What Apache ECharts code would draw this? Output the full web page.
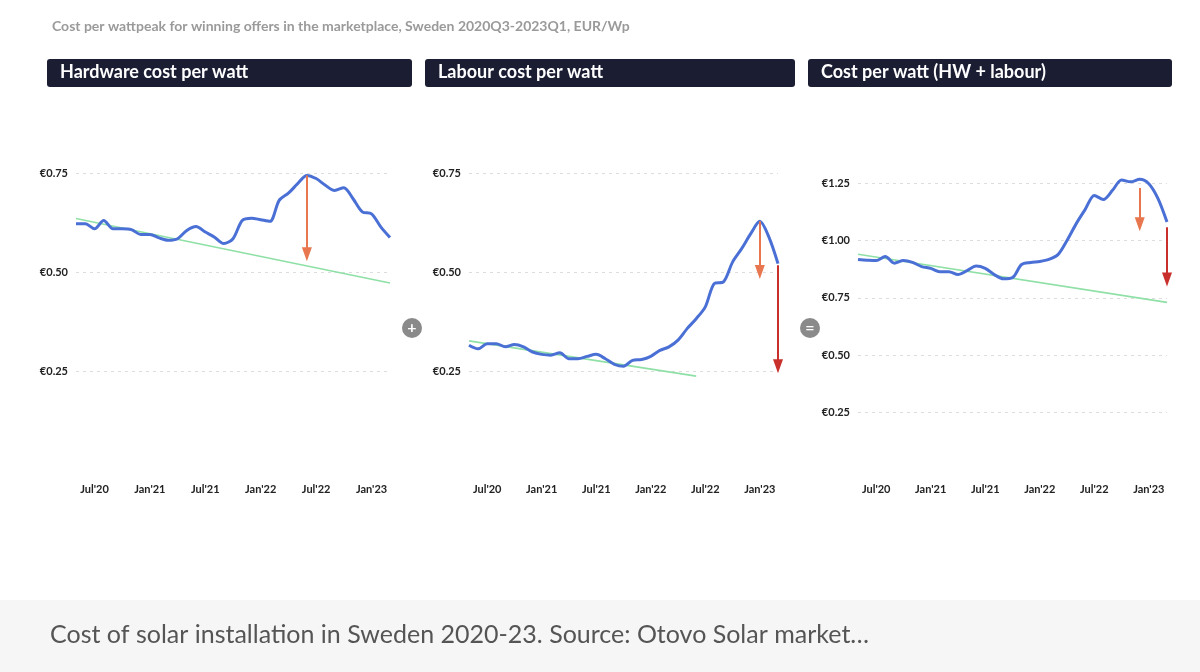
<!DOCTYPE html>
<html>
<head>
<meta charset="utf-8">
<script src="https://cdn.jsdelivr.net/npm/echarts@6/dist/echarts.min.js"></script>
<style>
    body {margin:0;background:#fff;}
    #chart {width:1200px;height:672px;}
</style>
</head>
<body>
<div id="chart"></div>
<script>
    // months May'20 .. Mar'23
    var months = ["May'20","Jun'20","Jul'20","Aug'20","Sep'20","Oct'20","Nov'20","Dec'20",
        "Jan'21","Feb'21","Mar'21","Apr'21","May'21","Jun'21","Jul'21","Aug'21","Sep'21","Oct'21","Nov'21","Dec'21",
        "Jan'22","Feb'22","Mar'22","Apr'22","May'22","Jun'22","Jul'22","Aug'22","Sep'22","Oct'22","Nov'22","Dec'22",
        "Jan'23","Feb'23","Mar'23"];
    var hardware = [0.622,0.622,0.609,0.630,0.609,0.609,0.607,0.595,0.595,0.586,0.580,0.584,0.605,0.615,0.601,0.588,0.572,0.584,
        0.630,0.636,0.632,0.628,0.681,0.699,0.723,0.744,0.736,0.719,0.706,0.713,0.685,0.652,0.647,0.614,0.587];
    var labour = [0.315,0.306,0.319,0.319,0.311,0.317,0.311,0.298,0.292,0.290,0.296,0.281,0.281,0.287,0.292,0.281,0.267,0.262,
        0.277,0.279,0.287,0.302,0.311,0.328,0.357,0.382,0.412,0.471,0.475,0.525,0.559,0.597,0.628,0.588,0.521];
    var total = [0.917,0.914,0.912,0.930,0.901,0.912,0.904,0.886,0.878,0.864,0.864,0.851,0.868,0.888,0.878,0.851,0.833,0.838,
        0.895,0.904,0.908,0.917,0.938,1.000,1.072,1.135,1.196,1.178,1.218,1.263,1.255,1.266,1.247,1.183,1.080];
    // trend lines: [start month, start value, end month, end value]
    var hwTrend = ["May'20", 0.635, "Mar'23", 0.472];
    var labTrend = ["May'20", 0.326, "Jun'22", 0.237];
    var totTrend = ["May'20", 0.940, "Mar'23", 0.730];
    // arrows: [month, from, to, colour]
    var hwArrows = [["Jun'22", 0.744, 0.545, '#e8764e']];
    var labArrows = [["Jan'23", 0.628, 0.500, '#e8764e'], ["Mar'23", 0.517, 0.262, '#c9302c']];
    var totArrows = [["Dec'22", 1.228, 1.070, '#e8764e'], ["Mar'23", 1.057, 0.830, '#c9302c']];
    var panelTitles = ['Hardware cost per watt', 'Labour cost per watt', 'Cost per watt (HW + labour)'];

    var font = 'Lato, "Open Sans", sans-serif';
    var chart = echarts.init(document.getElementById('chart'));

    function trendData(t) {
        var d = months.map(function () { return null; });
        d[months.indexOf(t[0])] = t[1];
        d[months.indexOf(t[2])] = t[3];
        return d;
    }
    function arrowLines(arr) {
        return arr.map(function (a) {
            return [{coord: [a[0], a[1]], lineStyle: {color: a[3], width: 2, type: 'solid'}, itemStyle: {color: a[3]}},
                    {coord: [a[0], a[2]]}];
        });
    }

    var grids = [
        {left: 76, right: 1200 - 390, top: 173, bottom: 672 - 470},
        {left: 469, right: 1200 - 778, top: 173, bottom: 672 - 470},
        {left: 858, right: 1200 - 1167, top: 183, bottom: 672 - 470}
    ];
    var xAxes = [0, 1, 2].map(function (i) {
        return {
            type: 'category', gridIndex: i, data: months, boundaryGap: false,
            axisLine: {show: false}, axisTick: {show: false},
            axisLabel: {
                interval: function (idx, v) { return v.indexOf('Jul') === 0 || v.indexOf('Jan') === 0; },
                margin: 14, fontFamily: font, fontWeight: 'bold', fontSize: 11, color: '#222'
            }
        };
    });
    var yAxes = [0, 1, 2].map(function (i) {
        return {
            type: 'value', gridIndex: i, min: 0, max: i === 2 ? 1.25 : 0.75, interval: 0.25,
            axisLine: {show: false}, axisTick: {show: false},
            splitLine: {showMinLine: false, lineStyle: {color: '#dddddd', type: [3, 4]}},
            axisLabel: {
                margin: 8, fontFamily: font, fontWeight: 'bold', fontSize: 11, color: '#222',
                formatter: function (v) { return v === 0 ? '' : '€' + v.toFixed(2); }
            }
        };
    });

    var seriesData = [hardware, labour, total];
    var trends = [hwTrend, labTrend, totTrend];
    var arrows = [hwArrows, labArrows, totArrows];
    var series = [];
    [0, 1, 2].forEach(function (i) {
        series.push({
            type: 'line', xAxisIndex: i, yAxisIndex: i, data: trendData(trends[i]), connectNulls: true,
            symbol: 'none', lineStyle: {color: '#8fe0a6', width: 1.6}, z: 2
        });
        series.push({
            type: 'line', xAxisIndex: i, yAxisIndex: i, data: seriesData[i], smooth: 0.3, clip: false,
            symbol: 'none', lineStyle: {color: '#4a70d6', width: 3}, z: 3,
            markLine: {
                silent: true, symbol: ['none', 'triangle'], symbolSize: [10, 14],
                label: {show: false}, data: arrowLines(arrows[i])
            }
        });
    });

    var boxes = [[47, 412], [425, 795], [808, 1172]];
    var graphic = [
        {type: 'rect', left: 0, top: 600, shape: {width: 1200, height: 72}, style: {fill: '#f6f6f6'}},
        {type: 'text', left: 52, top: 19, style: {text: 'Cost per wattpeak for winning offers in the marketplace, Sweden 2020Q3-2023Q1, EUR/Wp',
            font: 'bold 14px ' + font, fill: '#9a9a9a'}},
        {type: 'text', left: 50, top: 622, style: {text: 'Cost of solar installation in Sweden 2020-23. Source: Otovo Solar market…',
            font: '25px ' + font, fill: '#555'}}
    ];
    boxes.forEach(function (b, i) {
        graphic.push({type: 'rect', shape: {x: b[0], y: 59, width: b[1] - b[0], height: 28, r: 3}, style: {fill: '#1b1e33'}});
        graphic.push({type: 'text', x: b[0] + 13, y: 63, style: {text: panelTitles[i], font: 'bold 18px ' + font, fill: '#fff'}});
    });
    [[412, '+'], [810, '=']].forEach(function (c) {
        graphic.push({type: 'circle', shape: {cx: c[0], cy: 328, r: 10}, style: {fill: '#8a8a8a'}});
        graphic.push({type: 'text', x: c[0], y: 328, style: {text: c[1], font: 'bold 16px ' + font, fill: '#fff', align: 'center', verticalAlign: 'middle'}});
    });

    chart.setOption({
        animation: false,
        grid: grids, xAxis: xAxes, yAxis: yAxes, series: series, graphic: graphic
    });
</script>
</body>
</html>
